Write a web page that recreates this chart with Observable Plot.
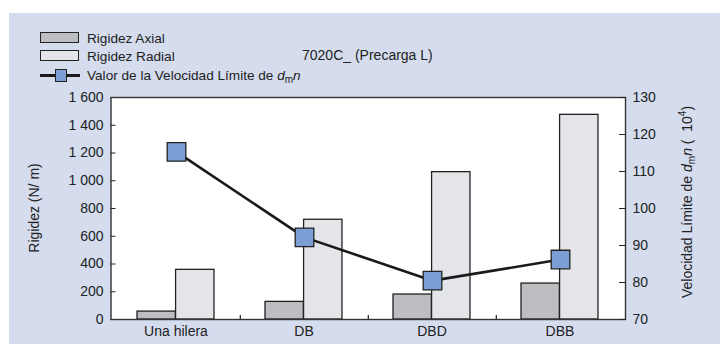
<!DOCTYPE html>
<html>
<head>
<meta charset="utf-8">
<script src="https://cdn.jsdelivr.net/npm/d3@7"></script>
<script src="https://cdn.jsdelivr.net/npm/@observablehq/plot@0.6"></script>
<style>
  html, body { margin: 0; padding: 0; background: #fff; }
  #wrap { position: relative; width: 724px; height: 344px; overflow: hidden; font-family: "Liberation Sans", Arial, sans-serif; color: #222; }
  #bg { position: absolute; left: 9px; top: 13px; width: 711px; height: 331px; background: #d4dcee; }
  #wrap svg { position: absolute; left: 0; top: 0; }
  .leg { position: absolute; font-size: 13.6px; line-height: 14px; white-space: nowrap; }
  .sw { position: absolute; left: 40px; width: 37px; height: 9px; border: 1.3px solid #222; }
  .title { position: absolute; left: 302px; top: 48px; font-size: 14px; line-height: 14px; }
</style>
</head>
<body>
<div id="wrap">
  <div id="bg"></div>
</div>
<script>
const categories = ["Una hilera", "DB", "DBD", "DBB"];
const rigidezAxial = [57, 127, 180, 259];
const rigidezRadial = [358, 719, 1062, 1475];
const velocidadLimite = [115.3, 92.2, 80.5, 86.2];
const leftTicks = [0, 200, 400, 600, 800, 1000, 1200, 1400, 1600];
const rightTicks = [70, 80, 90, 100, 110, 120, 130];
const titleText = "7020C_ (Precarga L)";
const leftLabel = "Rigidez (N/ m)";
const legendLabels = ["Rigidez Axial", "Rigidez Radial", "Valor de la Velocidad Límite de "];

const colAxial = "#bdbec2", colRadial = "#e4e5e8", colMarker = "#7b9fd4", ink = "#222";

const W = 724, H = 344, mL = 110.5, mR = 99, mT = 97, mB = 25;
const plotW = W - mL - mR;
const step = plotW / categories.length;
const bw = step * 0.6;
const midY = (mT + H - mB) / 2;

const rows = categories.map((c, i) => ({cat: c, axial: rigidezAxial[i], radial: rigidezRadial[i], v: velocidadLimite[i]}));
const fmt = d => d >= 1000 ? d3.format(",")(d).replace(",", " ") : String(d);

const common = {
  width: W, height: H, marginLeft: mL, marginRight: mR, marginTop: mT, marginBottom: mB,
  style: {background: "transparent", fontFamily: "'Liberation Sans', Arial, sans-serif", fontSize: "14px", color: ink, overflow: "visible"}
};

const bars = Plot.plot({
  ...common,
  x: {type: "band", domain: categories, paddingInner: 0.4, paddingOuter: 0.2},
  y: {domain: [0, 1600]},
  marks: [
    Plot.frame({fill: "white", stroke: "none"}),
    Plot.barY(rows, {x: "cat", y: "axial", fill: colAxial, stroke: ink, strokeWidth: 1.3, insetRight: bw / 2}),
    Plot.barY(rows, {x: "cat", y: "radial", fill: colRadial, stroke: ink, strokeWidth: 1.3, insetLeft: bw / 2}),
    Plot.ruleX(rows.slice(0, 3), {x: "cat", y1: 0, y2: 28, dx: step / 2, stroke: ink, strokeWidth: 1.2}),
    Plot.axisY({ticks: leftTicks, tickSize: -5, tickPadding: 12.5, tickFormat: fmt, label: null, stroke: ink, fill: ink}),
    Plot.axisX({tickSize: 0, tickPadding: 7, label: null, fill: ink}),
    Plot.frame({stroke: "#333", strokeWidth: 1.4})
  ]
});

const line = Plot.plot({
  ...common,
  x: {type: "point", domain: categories, padding: 0.5, axis: null},
  y: {domain: [70, 130]},
  marks: [
    Plot.line(rows, {x: "cat", y: "v", stroke: "#1a1a1a", strokeWidth: 2.6}),
    Plot.dot(rows, {x: "cat", y: "v", symbol: "square", r: 10.5, fill: colMarker, stroke: ink, strokeWidth: 1.3}),
    Plot.axisY({anchor: "right", ticks: rightTicks, tickSize: -7, tickPadding: 14, label: null, stroke: ink, fill: ink})
  ]
});
line.style.pointerEvents = "none";

const wrap = document.getElementById("wrap");
wrap.appendChild(bars);
wrap.appendChild(line);

// left axis label
d3.select(bars).append("text")
  .attr("transform", `translate(34, ${midY}) rotate(-90)`)
  .attr("text-anchor", "middle")
  .attr("dominant-baseline", "central")
  .attr("fill", ink)
  .style("font-size", "14px")
  .text(leftLabel);

// right axis label with italics / sub / superscript
const lbl = d3.select(line).append("text")
  .attr("transform", `translate(692, ${midY - 6}) rotate(-90)`)
  .attr("text-anchor", "middle")
  .attr("fill", ink)
  .style("font-size", "14px");
lbl.append("tspan").text("Velocidad Límite de ");
lbl.append("tspan").attr("font-style", "italic").text("d");
lbl.append("tspan").attr("font-size", "10px").attr("dy", 3).text("m");
lbl.append("tspan").attr("font-style", "italic").attr("dy", -3).text("n");
lbl.append("tspan").text(" (  10");
lbl.append("tspan").attr("font-size", "10px").attr("dy", -6).text("4");
lbl.append("tspan").attr("dy", 6).text(")");

// legend
function addEl(html, cls, style) {
  const d = document.createElement("div");
  d.className = cls; d.innerHTML = html; Object.assign(d.style, style); wrap.appendChild(d); return d;
}
addEl("", "sw", {top: "32px", background: colAxial});
addEl(legendLabels[0], "leg", {left: "87px", top: "32px"});
addEl("", "sw", {top: "50px", background: colRadial});
addEl(legendLabels[1], "leg", {left: "87px", top: "50px"});
addEl("", "", {position: "absolute", left: "40px", top: "74px", width: "40px", height: "2.6px", background: "#1a1a1a"});
addEl("", "", {position: "absolute", left: "55px", top: "69px", width: "10px", height: "11px", background: colMarker, border: "1.2px solid #222"});
addEl(legendLabels[2] + "<i>d</i><sub style='font-size:10px;vertical-align:-3px'>m</sub><i>n</i>", "leg", {left: "87px", top: "69px"});
addEl(titleText, "title", {});
</script>
</body>
</html>
